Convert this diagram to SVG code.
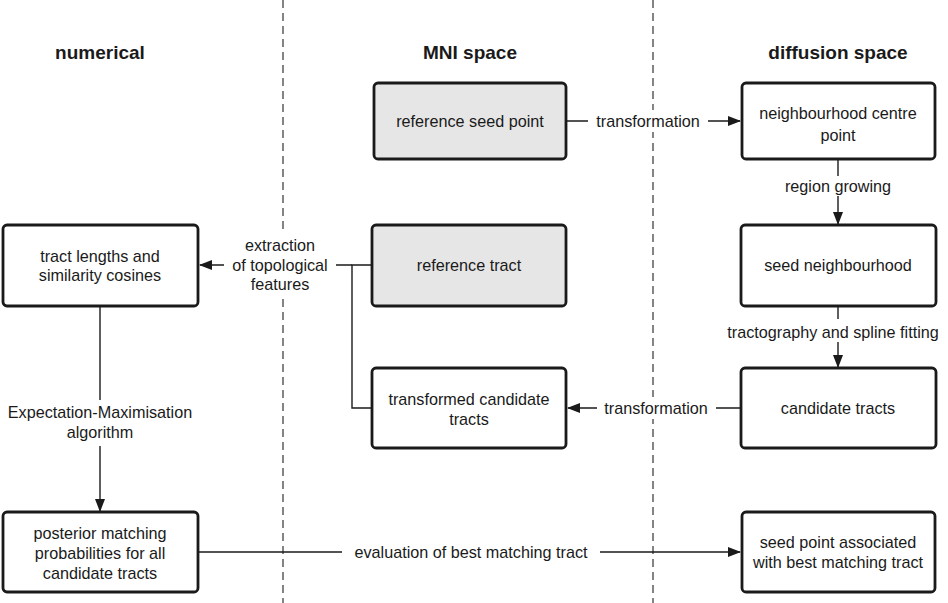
<svg xmlns="http://www.w3.org/2000/svg" width="948" height="603" viewBox="0 0 948 603">
<defs>
<style>
.box{fill:#fff;stroke:#1a1a1a;stroke-width:2.8}
.grey{fill:#e6e6e6}
.t{font-family:"Liberation Sans",Arial,sans-serif;font-size:16.2px;fill:#1a1a1a;text-anchor:middle}
.h{font-family:"Liberation Sans",Arial,sans-serif;font-size:19px;font-weight:bold;fill:#1a1a1a;text-anchor:middle}
.ln{stroke:#1a1a1a;stroke-width:1.4;fill:none}
.dash{stroke:#333;stroke-width:1.2;stroke-dasharray:8,5}
.bg{fill:#fff}
</style>
<marker id="arr" markerWidth="13" markerHeight="11" refX="12" refY="5.5" orient="auto" markerUnits="userSpaceOnUse">
<path d="M0,0.5 L13,5.5 L0,10.5 Z" fill="#1a1a1a"/>
</marker>
</defs>
<rect width="948" height="603" fill="#fff"/>
<g id="lanes">
<line class="dash" x1="283" y1="0" x2="283" y2="603"/>
<line class="dash" x1="653" y1="0" x2="653" y2="603"/>
<text class="h" x="100" y="59">numerical</text>
<text class="h" x="470" y="59">MNI space</text>
<text class="h" x="838" y="59">diffusion space</text>
</g>
<g id="connectors">
<line class="ln" x1="566" y1="121" x2="740" y2="121" marker-end="url(#arr)"/>
<rect class="bg" x="588" y="110" width="120" height="22"/>
<text class="t" x="648" y="127">transformation</text>
<line class="ln" x1="838" y1="159" x2="838" y2="224" marker-end="url(#arr)"/>
<rect class="bg" x="772" y="176" width="132" height="20"/>
<text class="t" x="838" y="192">region growing</text>
<line class="ln" x1="838" y1="306" x2="838" y2="367" marker-end="url(#arr)"/>
<rect class="bg" x="724" y="319" width="222" height="23"/>
<text class="t" x="833" y="338">tractography and spline fitting</text>
<line class="ln" x1="742" y1="408" x2="568" y2="408" marker-end="url(#arr)"/>
<rect class="bg" x="597" y="397" width="119" height="22"/>
<text class="t" x="656" y="414">transformation</text>
<polyline class="ln" points="372,265 352,265 352,408 372,408"/>
<line class="ln" x1="352" y1="265" x2="200" y2="265" marker-end="url(#arr)"/>
<rect class="bg" x="224" y="231" width="112" height="66"/>
<text class="t" x="280" y="251">extraction</text>
<text class="t" x="280" y="271">of topological</text>
<text class="t" x="280" y="290">features</text>
<line class="ln" x1="100" y1="306" x2="100" y2="511" marker-end="url(#arr)"/>
<rect class="bg" x="0" y="400" width="200" height="46"/>
<text class="t" x="100" y="418">Expectation-Maximisation</text>
<text class="t" x="100" y="438">algorithm</text>
<line class="ln" x1="198" y1="552" x2="740" y2="552" marker-end="url(#arr)"/>
<rect class="bg" x="342" y="541" width="258" height="22"/>
<text class="t" x="471" y="558">evaluation of best matching tract</text>
</g>
<g id="ref-seed">
<rect class="box grey" x="374" y="83" width="192" height="76" rx="4"/>
<text class="t" x="470" y="127">reference seed point</text>
</g>
<g id="nb-centre">
<rect class="box" x="742" y="83" width="193" height="76" rx="4"/>
<text class="t" x="838" y="119">neighbourhood centre</text>
<text class="t" x="838" y="141">point</text>
</g>
<g id="tract-lengths">
<rect class="box" x="3" y="225" width="195" height="81" rx="4"/>
<text class="t" x="100" y="262">tract lengths and</text>
<text class="t" x="100" y="281">similarity cosines</text>
</g>
<g id="ref-tract">
<rect class="box grey" x="372" y="225" width="194" height="81" rx="4"/>
<text class="t" x="469" y="271">reference tract</text>
</g>
<g id="seed-nb">
<rect class="box" x="741" y="225" width="195" height="81" rx="4"/>
<text class="t" x="838" y="271">seed neighbourhood</text>
</g>
<g id="transformed">
<rect class="box" x="372" y="368" width="194" height="80" rx="4"/>
<text class="t" x="469" y="405">transformed candidate</text>
<text class="t" x="469" y="425">tracts</text>
</g>
<g id="candidates">
<rect class="box" x="741" y="368" width="195" height="80" rx="4"/>
<text class="t" x="838" y="414">candidate tracts</text>
</g>
<g id="posterior">
<rect class="box" x="3" y="512" width="195" height="80" rx="4"/>
<text class="t" x="100" y="539">posterior matching</text>
<text class="t" x="100" y="559">probabilities for all</text>
<text class="t" x="100" y="579">candidate tracts</text>
</g>
<g id="seed-assoc">
<rect class="box" x="742" y="512" width="193" height="80" rx="4"/>
<text class="t" x="838" y="548">seed point associated</text>
<text class="t" x="838" y="568">with best matching tract</text>
</g>
</svg>
